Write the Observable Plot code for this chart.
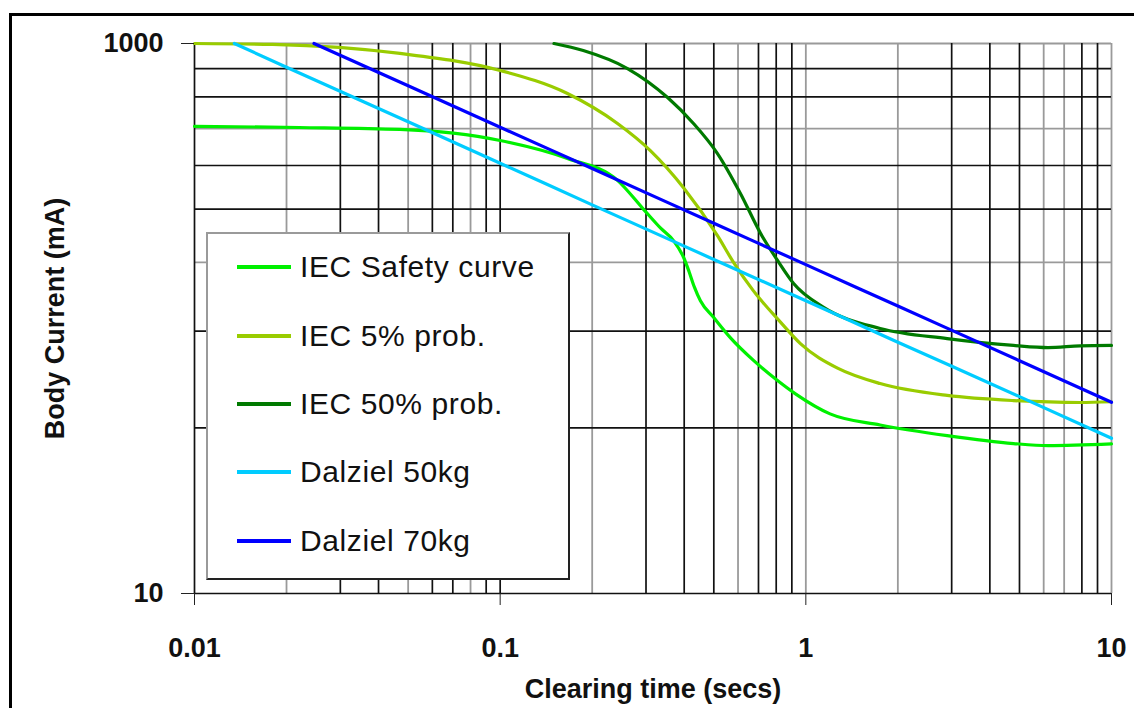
<!DOCTYPE html>
<html>
<head>
<meta charset="utf-8">
<script src="https://cdn.jsdelivr.net/npm/d3@7"></script>
<script src="https://cdn.jsdelivr.net/npm/@observablehq/plot@0.6"></script>
<style>
  html, body { margin: 0; padding: 0; background: #fff; }
  #wrap { position: relative; width: 1134px; height: 708px; overflow: hidden; font-family: "Liberation Sans", Arial, sans-serif; }
  #frame { position: absolute; left: 9px; top: 13px; width: 1200px; height: 800px; border: 3px solid #000; }
  #chart { position: absolute; left: 0; top: 0; }
  #legend { position: absolute; left: 206px; top: 232px; width: 360px; height: 344px; background: #fff;
            border: 2px solid; border-color: #9a9a9a #222 #222 #9a9a9a; }
  .row { position: absolute; left: 0; height: 40px; }
  .sw { position: absolute; left: 29px; width: 54px; height: 4px; }
  .lab { position: absolute; left: 92px; font-size: 30px; color: #111; white-space: nowrap; line-height: 40px; top: 0; letter-spacing: 0.6px; }
</style>
</head>
<body>
<div id="wrap">
  <div id="frame"></div>
  <div id="chart"></div>
  <div id="legend"></div>
</div>
<script>
// ---- Data ----
const seriesNames = ["IEC Safety curve", "IEC 5% prob.", "IEC 50% prob.", "Dalziel 50kg", "Dalziel 70kg"];
const seriesColors = ["#00f000", "#99cc00", "#007a00", "#00ccff", "#0000ff"];

// Clearing time (s) / body current (mA)
const safetyT = [0.01, 0.022, 0.047, 0.1, 0.166, 0.242, 0.294, 0.335, 0.369, 0.398, 0.415, 0.432, 0.452, 0.499, 0.567, 0.674, 0.8, 0.93, 1.2, 1.75, 2.9, 4.78, 6.2, 10];
const safetyI = [500, 495, 487, 444, 382, 318, 250, 213, 192, 167, 148, 130, 116, 101, 85, 70.4, 60, 53, 45, 41, 37.5, 35.1, 34.5, 35];

const p5T = [0.01, 0.018, 0.047, 0.1, 0.166, 0.242, 0.31, 0.398, 0.514, 0.58, 0.674, 0.826, 0.96, 1.27, 1.75, 2.9, 4.78, 7.9, 10];
const p5I = [1000, 992, 920, 798, 658, 512, 408, 299, 200, 160, 126, 97, 81, 66, 58, 52.5, 50.3, 49.5, 49.8];

const p50T = [0.15, 0.187, 0.261, 0.353, 0.429, 0.514, 0.611, 0.711, 0.807, 0.912, 1.14, 1.75, 2.9, 4.78, 6.2, 7.9, 10];
const p50I = [1000, 943, 811, 636, 512, 398, 285, 204, 163, 134, 110, 92, 84.5, 79.8, 78.4, 79.5, 79.8];

const d50T = [0.0135, 0.02, 0.05, 0.1, 0.2, 0.5, 1, 2, 5, 10];
const d50I = [1000, 820, 519, 367, 259, 164, 116, 82, 52, 36.7];

const d70T = [0.0246, 0.05, 0.1, 0.2, 0.5, 1, 2, 5, 10];
const d70I = [1000, 702, 496, 351, 222, 157, 111, 70.2, 49.6];

// Grid lines (as in the reference: some dark, some grey)
const xGridDark = [0.01, 0.03, 0.04, 0.06, 0.07, 0.09, 0.1, 0.3, 0.4, 0.5, 0.7, 0.8, 0.9, 3, 4, 5, 8, 9];
const xGridGrey = [0.02, 0.05, 0.08, 0.2, 0.6, 1, 2, 6, 7, 10];
const yGridDark = [10, 40, 90, 250, 360, 640, 810];
const yGridGrey = [160, 490, 1000];

const xTicks = [0.01, 0.1, 1, 10];
const xTickLabels = ["0.01", "0.1", "1", "10"];
const yTicks = [10, 1000];
const yTickLabels = ["10", "1000"];

// ---- Build table ----
const seriesT = [safetyT, p5T, p50T, d50T, d70T];
const seriesI = [safetyI, p5I, p50I, d50I, d70I];
const data = seriesNames.flatMap((name, k) => seriesT[k].map((t, i) => ({series: name, t, I: seriesI[k][i]})));

const plot = Plot.plot({
  width: 1134,
  height: 708,
  marginLeft: 194,
  marginRight: 23,
  marginTop: 43,
  marginBottom: 115,
  style: {fontFamily: "'Liberation Sans', Arial, sans-serif", background: "transparent", overflow: "visible"},
  x: {type: "log", domain: [0.01, 10]},
  y: {type: "log", domain: [10, 1000]},
  color: {domain: seriesNames, range: seriesColors},
  marks: [
    Plot.ruleX(xGridGrey, {stroke: "#9a9a9a", strokeWidth: 1.8}),
    Plot.ruleY(yGridGrey, {stroke: "#9a9a9a", strokeWidth: 1.8}),
    Plot.ruleX(xGridDark, {stroke: "#111", strokeWidth: 1.7}),
    Plot.ruleY(yGridDark, {stroke: "#111", strokeWidth: 1.7}),
    Plot.line(data, {x: "t", y: "I", z: "series", stroke: "series", strokeWidth: 3.2, curve: "monotone-x"}),
    Plot.axisX({
      ticks: xTicks, tickSize: 12, tickPadding: 32, stroke: "#222",
      tickFormat: (d) => xTickLabels[xTicks.indexOf(d)],
      fontSize: 27, fontWeight: "bold", fill: "#111",
      label: "Clearing time (secs)", labelAnchor: "center", labelOffset: 104, labelArrow: "none"
    }),
    Plot.axisY({
      ticks: yTicks, tickSize: 13, tickPadding: 18, stroke: "#222",
      tickFormat: (d) => yTickLabels[yTicks.indexOf(d)],
      fontSize: 27, fontWeight: "bold", fill: "#111",
      label: "Body Current (mA)", labelAnchor: "center", labelOffset: 150, labelArrow: "none"
    })
  ]
});
document.getElementById("chart").appendChild(plot);

// ---- Legend (HTML) ----
const legend = document.getElementById("legend");
const rowCenters = [33, 102, 170, 238, 307];
seriesNames.forEach((name, i) => {
  const row = document.createElement("div");
  row.className = "row";
  row.style.top = (rowCenters[i] - 20) + "px";
  const sw = document.createElement("div");
  sw.className = "sw";
  sw.style.background = seriesColors[i];
  sw.style.top = "18px";
  const lab = document.createElement("div");
  lab.className = "lab";
  lab.textContent = name;
  row.appendChild(sw);
  row.appendChild(lab);
  legend.appendChild(row);
});
</script>
</body>
</html>
